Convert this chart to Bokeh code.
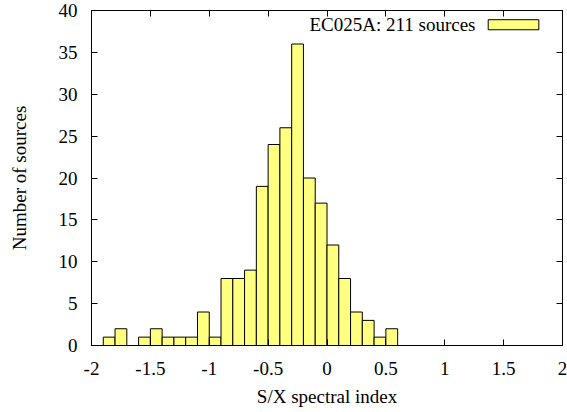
from bokeh.plotting import figure
from bokeh.models import (Range1d, SingleIntervalTicker, LinearAxis, Label,
                          BoxAnnotation, CustomJSTickFormatter)
from bokeh.embed import file_html
from bokeh.resources import INLINE

# Histogram bins (bin centres, width 0.1) and counts
bin_centers = [-1.85, -1.75, -1.65, -1.55, -1.45, -1.35, -1.25, -1.15, -1.05, -0.95,
               -0.85, -0.75, -0.65, -0.55, -0.45, -0.35, -0.25, -0.15, -0.05,
               0.05, 0.15, 0.25, 0.35, 0.45, 0.55]
counts = [1, 2, 0, 1, 2, 1, 1, 1, 4, 1,
          8, 8, 9, 19, 24, 26, 36, 20, 17,
          12, 8, 4, 3, 1, 2]
bin_width = 0.1
legend_text = "EC025A: 211 sources"
x_label = "S/X spectral index"
y_label = "Number of sources"

FONT = "Liberation Serif"
FS = "19px"
FILL = "#ffff80"

p = figure(width=567, height=412, output_backend="svg", toolbar_location=None,
           x_range=Range1d(-2, 2), y_range=Range1d(0, 40),
           min_border_left=91, min_border_right=5, min_border_top=10,
           min_border_bottom=67, x_axis_location=None, y_axis_location=None)
p.xgrid.visible = False
p.ygrid.visible = False
p.outline_line_color = "black"
p.outline_line_width = 1
p.background_fill_color = "white"
p.border_fill_color = "white"

p.vbar(x=bin_centers, top=counts, bottom=0, width=bin_width,
       fill_color=FILL, line_color="black", line_width=1)

fmt = CustomJSTickFormatter(code="return String(Math.round(tick*10)/10);")
blank = CustomJSTickFormatter(code="return '';")

def make_axis(ticker, labels=True):
    ax = LinearAxis(ticker=ticker, formatter=fmt if labels else blank)
    ax.major_tick_in = 6
    ax.major_tick_out = 0
    ax.minor_tick_in = 0
    ax.minor_tick_out = 0
    ax.axis_line_color = "black"
    ax.major_tick_line_color = "black"
    ax.major_label_text_font = FONT
    ax.major_label_text_color = "black"
    ax.axis_label_text_font = FONT
    ax.axis_label_text_font_style = "normal"
    ax.axis_label_text_color = "black"
    ax.axis_label_text_font_size = FS
    if labels:
        ax.major_label_text_font_size = FS
        ax.major_label_standoff = 14
    else:
        ax.major_label_text_font_size = "1px"
        ax.major_label_standoff = 0
    return ax

xb = make_axis(SingleIntervalTicker(interval=0.5))
xb.axis_label = x_label
xb.major_label_standoff = 16
xb.axis_label_standoff = 8
p.add_layout(xb, "below")

yl = make_axis(SingleIntervalTicker(interval=5))
yl.axis_label = y_label
yl.axis_label_standoff = 26
p.add_layout(yl, "left")

xt = make_axis(SingleIntervalTicker(interval=0.5), labels=False)
p.add_layout(xt, "above")
yr = make_axis(SingleIntervalTicker(interval=5), labels=False)
p.add_layout(yr, "right")

# Key (gnuplot style: text then sample)
p.add_layout(Label(x=1.261, y=38.27, text=legend_text, text_align="right",
                   text_baseline="middle", text_font=FONT, text_font_size=FS,
                   text_color="black"))
p.add_layout(BoxAnnotation(left=1.369, right=1.799, bottom=37.7, top=38.9,
                           fill_color=FILL, fill_alpha=1, line_color="black",
                           line_width=1, line_alpha=1))

open("out.html", "w").write(file_html(p, INLINE))
